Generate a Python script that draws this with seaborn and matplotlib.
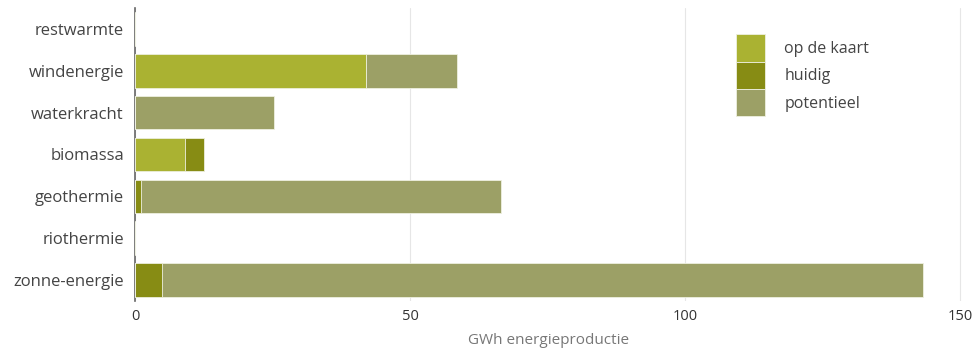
import numpy as np
import pandas as pd
import matplotlib
matplotlib.use("Agg")
import matplotlib.pyplot as plt
import seaborn as sns
from matplotlib.patches import Patch

categories = ["restwarmte", "windenergie", "waterkracht", "biomassa",
              "geothermie", "riothermie", "zonne-energie"]
op_de_kaart = [0, 42.0, 0, 9.1, 0, 0, 0]
huidig = [0, 0, 0, 3.4, 1.1, 0, 4.9]
potentieel = [0, 16.5, 25.3, 0, 65.4, 0, 138.4]
series_names = ["op de kaart", "huidig", "potentieel"]
colors = ["#aab232", "#878c14", "#9ca066"]
xticks = [0, 50, 100, 150]
xlabel = "GWh energieproductie"

sns.set_theme(style="white")
plt.rcParams["font.family"] = ["Open Sans", "DejaVu Sans"]

df = pd.DataFrame({"cat": categories,
                   "kaart": op_de_kaart,
                   "huidig": huidig,
                   "pot": potentieel})
df["c1"] = df["kaart"]
df["c2"] = df["kaart"] + df["huidig"]
df["c3"] = df["c2"] + df["pot"]

fig = plt.figure(figsize=(9.75, 3.48), dpi=100)
ax = fig.add_axes([135/975, 47/348, (962.75-135)/975, (340-47)/348])

for col, c in zip(["c3", "c2", "c1"], [colors[2], colors[1], colors[0]]):
    sns.barplot(data=df, y="cat", x=col, order=categories, color=c,
                orient="h", width=0.8, ax=ax, saturation=1,
                edgecolor="#eef0e0", linewidth=0.6, zorder=3)

ax.set_xlim(0, 150.5)
ax.set_xticks(xticks)
ax.set_xticklabels([str(t) for t in xticks])
ax.grid(axis="x", color="#e6e6e6", linewidth=0.8, zorder=0)
ax.set_axisbelow(True)
for s in ["top", "right", "bottom"]:
    ax.spines[s].set_visible(False)
ax.spines["left"].set_color("#666666")
ax.spines["left"].set_linewidth(1.2)
ax.set_ylabel("")
ax.set_xlabel(xlabel, color="#777777", fontsize=11, labelpad=6)
ax.tick_params(axis="y", length=0, pad=8, labelsize=12, labelcolor="#444444")
ax.tick_params(axis="x", length=0, pad=6, labelsize=10.5, labelcolor="#333333")

handles = [Patch(facecolor=c, edgecolor="#eef0e0", linewidth=0.6) for c in colors]
leg = ax.legend(handles, series_names, loc="upper left",
                bbox_to_anchor=(0.717, 0.937), frameon=False,
                handlelength=1.8, handleheight=2.25, labelspacing=0.0,
                handletextpad=1.2, borderpad=0, fontsize=11.5)
for t in leg.get_texts():
    t.set_color("#444444")

fig.savefig("out.png", dpi=100)
